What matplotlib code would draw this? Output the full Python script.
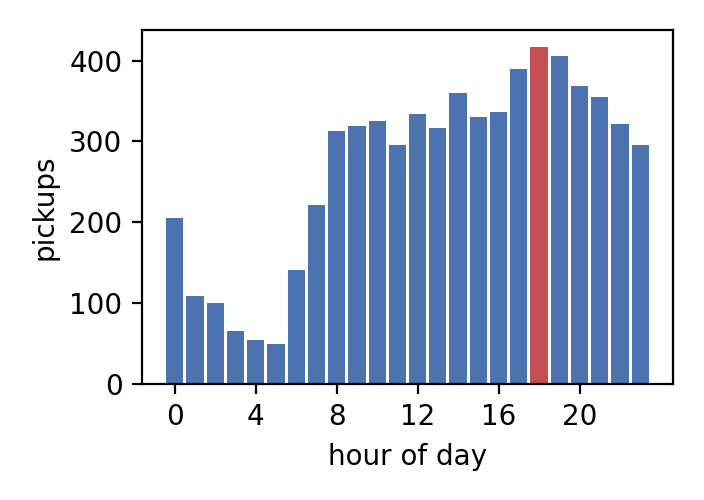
import matplotlib
matplotlib.use("Agg")
import matplotlib.pyplot as plt

hours = list(range(24))
pickups = [205, 109, 100, 66, 55, 49, 141, 221, 313, 319, 325, 295,
           334, 317, 360, 330, 336, 389, 417, 406, 369, 355, 322, 295]
peak_hour = 18
colors = ["#C44E52" if h == peak_hour else "#4C72B0" for h in hours]

fig, ax = plt.subplots(figsize=(3.52, 2.5), dpi=200)
ax.bar(hours, pickups, width=0.85, color=colors)
ax.set_xticks([0, 4, 8, 12, 16, 20])
ax.set_xlabel("hour of day")
ax.set_ylabel("pickups")
fig.subplots_adjust(left=142/704, right=673/704, top=1-30/500, bottom=1-384/500)
fig.savefig("out.png", dpi=200)
